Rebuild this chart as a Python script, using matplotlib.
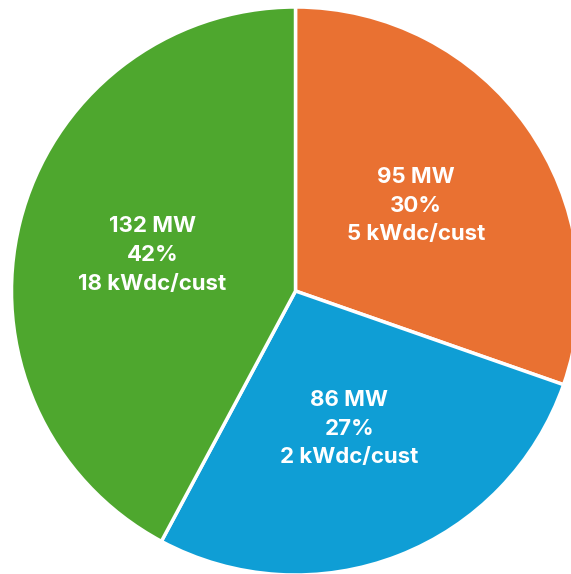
import matplotlib
matplotlib.use("Agg")
import matplotlib.pyplot as plt

categories = ["Orange", "Blue", "Green"]
mw = [95, 86, 132]
pct = [30, 27, 42]
kwdc = [5, 2, 18]
colors = ["#E97132", "#0F9ED5", "#4EA72E"]

labels = [f"{m} MW\n{p}%\n{k} kWdc/cust" for m, p, k in zip(mw, pct, kwdc)]

fig = plt.figure(figsize=(5.71, 5.74), dpi=100)
ax = fig.add_axes([0, 0, 1, 1])

wedges, texts = ax.pie(mw, colors=colors, startangle=90, counterclock=False,
                       center=(295.5, 283), radius=284, labels=labels,
                       labeldistance=0.52,
                       wedgeprops=dict(edgecolor="white", linewidth=2.5),
                       textprops=dict(color="white", fontsize=16, fontweight="bold",
                                      family=["Inter", "DejaVu Sans"],
                                      ha="center", va="center", linespacing=1.55))
ax.set_xlim(0, 571)
ax.set_ylim(0, 574)
ax.set_aspect("equal")
ax.axis("off")
fig.savefig("out.png", dpi=100)
